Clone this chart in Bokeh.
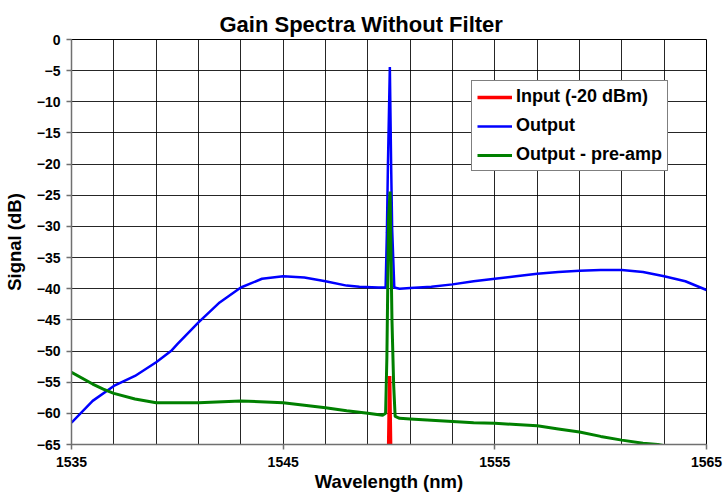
from bokeh.plotting import figure
from bokeh.models import Range1d, FixedTicker, Legend, LegendItem
from bokeh.embed import file_html
from bokeh.resources import INLINE

# ---------------- data ----------------
out_wl = [1535, 1536, 1537, 1538, 1539, 1539.7, 1540, 1541, 1542, 1543, 1544,
          1545, 1546, 1547, 1548, 1548.6, 1549.5, 1549.84, 1549.9, 1549.95, 1550.04,
          1550.1, 1550.15, 1550.25, 1550.5, 1551, 1552, 1553, 1554, 1555, 1556, 1557,
          1558, 1559, 1560, 1561, 1562, 1563, 1564, 1565]
out_db = [-61.5, -58.0, -55.6, -54.0, -51.8, -50.0, -48.9, -45.4, -42.2, -39.8, -38.4,
          -38.0, -38.2, -38.8, -39.5, -39.7, -39.8, -39.8, -31.0, -20.0, -4.4,
          -20.0, -30.5, -39.8, -40.0, -39.9, -39.7, -39.3, -38.8, -38.4, -38.0, -37.6,
          -37.3, -37.1, -37.0, -37.0, -37.3, -38.0, -38.8, -40.2]

pre_wl = [1535, 1536, 1536.5, 1537, 1538, 1539, 1540, 1541, 1543,
          1545, 1546, 1547, 1548, 1549, 1549.7, 1549.84, 1549.9, 1549.98, 1550.05,
          1550.14, 1550.22, 1550.29, 1550.5, 1551, 1552, 1553, 1554, 1555, 1556, 1557,
          1558, 1559, 1560, 1561, 1562, 1562.7, 1563.5]
pre_db = [-53.4, -55.3, -56.1, -56.8, -57.7, -58.3, -58.3, -58.3, -58.0,
          -58.3, -58.7, -59.1, -59.6, -60.0, -60.3, -60.0, -51.0, -28.7, -24.4,
          -45.0, -55.4, -60.5, -60.8, -60.9, -61.1, -61.3, -61.5, -61.6, -61.8, -62.0,
          -62.5, -63.0, -63.7, -64.3, -64.8, -65.0, -65.5]

in_wl = [1535, 1549.9, 1549.98, 1550.03, 1550.08, 1550.15, 1565]
in_db = [-80, -80, -66, -54.0, -66, -80, -80]

x_ticks = [1535, 1545, 1555, 1565]
y_ticks = list(range(-65, 1, 5))
x_grid = list(range(1535, 1566, 2))

# ---------------- figure ----------------
p = figure(frame_width=635, frame_height=405, output_backend="svg", toolbar_location=None,
           x_range=Range1d(1535, 1565), y_range=Range1d(-65, 0),
           min_border_left=70, min_border_right=18, min_border_top=39, min_border_bottom=49,
           background_fill_color="white", border_fill_color="white")

p.title.text = "Gain Spectra Without Filter"
p.title.align = "left"
p.title.offset = 148
p.title.standoff = 6
p.title.text_font = "Liberation Sans"
p.title.text_font_size = "22px"
p.title.text_font_style = "bold"
p.title.text_color = "black"

p.outline_line_color = "black"
p.outline_line_width = 1

p.xaxis.ticker = FixedTicker(ticks=x_ticks)
p.yaxis.ticker = FixedTicker(ticks=y_ticks)
p.xgrid.ticker = FixedTicker(ticks=x_grid)
p.ygrid.ticker = FixedTicker(ticks=y_ticks)
p.xgrid.grid_line_color = "black"
p.ygrid.grid_line_color = "black"
p.xgrid.grid_line_alpha = 0.85
p.ygrid.grid_line_alpha = 0.85

for ax in (p.xaxis, p.yaxis):
    ax.axis_line_color = "#707070"
    ax.axis_line_width = 1.5
    ax.major_tick_line_color = "#707070"
    ax.major_tick_line_width = 1.5
    ax.major_tick_in = 0
    ax.major_tick_out = 5
    ax.minor_tick_line_color = None
    ax.major_label_text_font = "Liberation Sans"
    ax.major_label_text_font_style = "bold"
    ax.major_label_text_font_size = "14px"
    ax.major_label_text_color = "black"
    ax.axis_label_text_font = "Liberation Sans"
    ax.axis_label_text_font_style = "bold"
    ax.axis_label_text_font_size = "18.5px"
    ax.axis_label_text_color = "black"

p.xaxis.axis_label = "Wavelength (nm)"
p.yaxis.axis_label = "Signal (dB)"
p.xaxis.major_label_standoff = 7
p.xaxis.axis_label_standoff = 1
p.yaxis.major_label_standoff = 6
p.yaxis.axis_label_standoff = 9

r_out = p.line(out_wl, out_db, line_color="#0000ff", line_width=2.5)
r_pre = p.line(pre_wl, pre_db, line_color="#008000", line_width=3)
r_in = p.line(in_wl, in_db, line_color="#ff0000", line_width=3.5)

legend = Legend(items=[
    LegendItem(label="Input (-20 dBm)", renderers=[r_in]),
    LegendItem(label="Output", renderers=[r_out]),
    LegendItem(label="Output - pre-amp", renderers=[r_pre]),
], location=(400, 273))
legend.label_text_font = "Liberation Sans"
legend.label_text_font_style = "bold"
legend.label_text_font_size = "18px"
legend.label_text_color = "black"
legend.label_standoff = 4
legend.label_height = 20
legend.glyph_width = 35
legend.glyph_height = 20
legend.spacing = 8
legend.padding = 5
legend.margin = 0
legend.border_line_color = "black"
legend.border_line_width = 1
legend.background_fill_color = "white"
legend.background_fill_alpha = 1
p.add_layout(legend, "center")

open("out.html", "w").write(file_html(p, INLINE))
